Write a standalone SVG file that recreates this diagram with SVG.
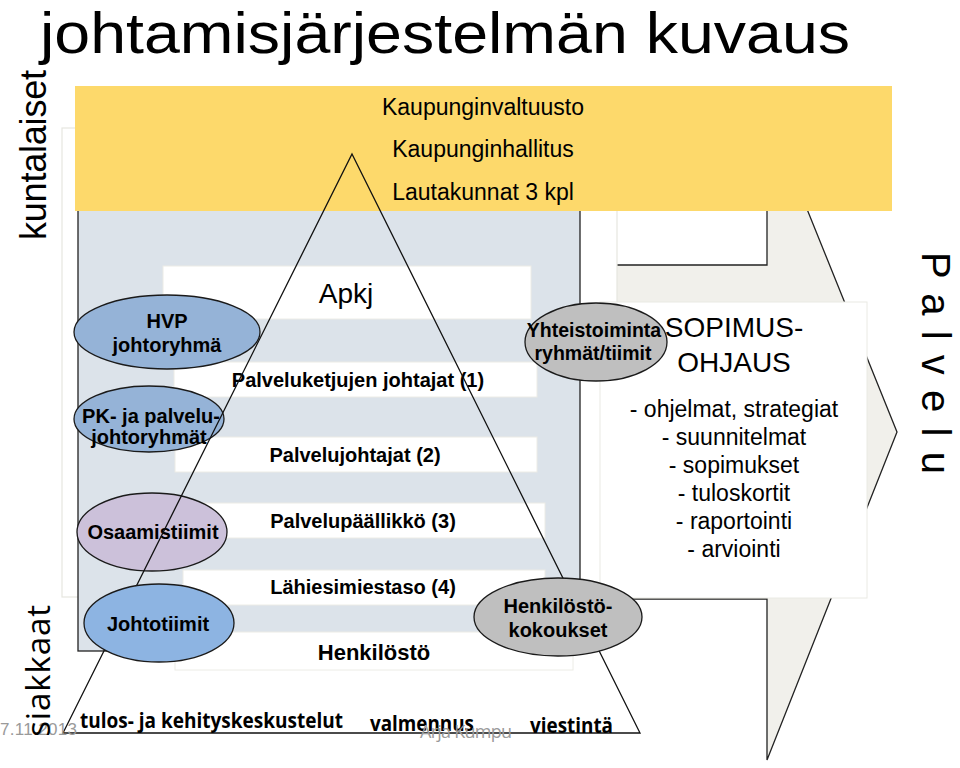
<svg xmlns="http://www.w3.org/2000/svg" width="960" height="768" viewBox="0 0 960 768">
<defs>
<style>
.sans{font-family:"Liberation Sans",Arial,sans-serif;fill:#000}
.b{font-weight:bold}
.row{fill:#fff;stroke:#ecece6;stroke-width:1}
.ell{stroke:#1a1a1a;stroke-width:1.3}
.cal{font-family:"Open Sans","Noto Sans",sans-serif;font-weight:bold;fill:#000}
.gray{fill:#9a9a9a}
.mid{text-anchor:middle}
</style>
<clipPath id="clipAs"><rect x="0" y="560" width="70" height="178"/></clipPath>
</defs>
<rect x="0" y="0" width="960" height="768" fill="#fff"/>

<g id="palvelu-arrow">
<polygon points="550,265 767,265 767,110 897,432 767,760 767,599 550,599" fill="#f1f0eb" stroke="#222" stroke-width="1.3"/>
</g>

<g id="outer-panel">
<rect x="62" y="128" width="555" height="469" fill="#fff" stroke="#e6e6df" stroke-width="1.2"/>
</g>

<g id="sopimusohjaus">
<rect x="600" y="302" width="267" height="296" fill="#fff" stroke="#eaeae4" stroke-width="1"/>
<text class="sans mid" x="734" y="337" font-size="28">SOPIMUS-</text>
<text class="sans mid" x="734" y="372" font-size="28">OHJAUS</text>
<text class="sans mid" x="734" y="417" font-size="23">- ohjelmat, strategiat</text>
<text class="sans mid" x="734" y="445" font-size="23">- suunnitelmat</text>
<text class="sans mid" x="734" y="473" font-size="23">- sopimukset</text>
<text class="sans mid" x="734" y="501" font-size="23">- tuloskortit</text>
<text class="sans mid" x="734" y="529" font-size="23">- raportointi</text>
<text class="sans mid" x="734" y="557" font-size="23">- arviointi</text>
</g>

<g id="organisation-panel">
<rect x="78" y="200" width="502" height="451" fill="#dce3ea" stroke="#222" stroke-width="1.3"/>
</g>

<g id="poliittinen">
<rect x="75" y="86" width="817" height="125" fill="#fdd96b"/>
<text class="sans mid" x="483" y="115" font-size="23">Kaupunginvaltuusto</text>
<text class="sans mid" x="483" y="157" font-size="23">Kaupunginhallitus</text>
<text class="sans mid" x="483" y="200" font-size="23">Lautakunnat 3 kpl</text>
</g>

<g id="row-apkj">
<rect class="row" x="163" y="266" width="368" height="53"/>
<text class="sans mid" x="346" y="303" font-size="28">Apkj</text>
</g>
<g id="row-1">
<rect class="row" x="174" y="362" width="363" height="35"/>
<text class="sans b mid" x="358" y="387" font-size="20">Palveluketjujen johtajat (1)</text>
</g>
<g id="row-2">
<rect class="row" x="175" y="437" width="362" height="35"/>
<text class="sans b mid" x="355" y="462" font-size="20">Palvelujohtajat (2)</text>
</g>
<g id="row-3">
<rect class="row" x="182" y="503" width="363" height="35"/>
<text class="sans b mid" x="363" y="528" font-size="20">Palvelupäällikkö (3)</text>
</g>
<g id="row-4">
<rect class="row" x="183" y="570" width="362" height="35"/>
<text class="sans b mid" x="363" y="594" font-size="20">Lähiesimiestaso (4)</text>
</g>
<g id="row-henkilosto">
<rect class="row" x="175" y="632" width="398" height="38"/>
<text class="sans b mid" x="374" y="660" font-size="22">Henkilöstö</text>
</g>

<g id="hvp">
<ellipse class="ell" cx="167" cy="332" rx="93" ry="37" fill="#95b3d7"/>
<text class="sans b mid" x="167" y="328" font-size="20">HVP</text>
<text class="sans b mid" x="167" y="352" font-size="20">johtoryhmä</text>
</g>
<g id="pk">
<ellipse class="ell" cx="149" cy="419" rx="75" ry="33" fill="#95b3d7"/>
<text class="sans b mid" x="151" y="423" font-size="20">PK- ja palvelu-</text>
<text class="sans b mid" x="149" y="444" font-size="20">johtoryhmät</text>
</g>
<g id="osaamistiimit">
<ellipse class="ell" cx="152" cy="532" rx="75" ry="39" fill="#ccc1da"/>
<text class="sans b mid" x="153" y="539" font-size="20">Osaamistiimit</text>
</g>
<g id="yhteistoiminta">
<ellipse class="ell" cx="596" cy="342" rx="71" ry="39" fill="#bfbfbf"/>
<text class="sans b mid" x="594" y="337" font-size="19.5">Yhteistoiminta</text>
<text class="sans b mid" x="593" y="360" font-size="19.5">ryhmät/tiimit</text>
</g>

<g id="connectors">
<polygon id="pyramid" points="352,154 640,733 63,733" fill="none" stroke="#111" stroke-width="1.3"/>
</g>

<g id="johtotiimit">
<ellipse class="ell" cx="159" cy="623" rx="75" ry="39" fill="#8db4e2"/>
<text class="sans b mid" x="158" y="631" font-size="20">Johtotiimit</text>
</g>
<g id="henkilostokokoukset">
<ellipse class="ell" cx="558" cy="617" rx="84" ry="39" fill="#bfbfbf"/>
<text class="sans b mid" x="558" y="613" font-size="20">Henkilöstö-</text>
<text class="sans b mid" x="558" y="637" font-size="20">kokoukset</text>
</g>

<g id="bottom-labels">
<text class="cal" x="80" y="728" font-size="21" textLength="263" lengthAdjust="spacingAndGlyphs">tulos- ja kehityskeskustelut</text>
<text class="cal" x="370" y="731" font-size="21" textLength="104" lengthAdjust="spacingAndGlyphs">valmennus</text>
<text class="cal" x="530" y="733" font-size="21" textLength="83" lengthAdjust="spacingAndGlyphs">viestintä</text>
</g>

<g id="footer">
<text class="gray" x="0" y="735" font-family="Liberation Sans, Arial, sans-serif" font-size="17" textLength="77">7.11.2013</text>
<text class="gray" x="420" y="738" font-family="Open Sans, Noto Sans, sans-serif" font-size="18" textLength="92">Arja Kumpu</text>
</g>

<g id="title">
<text class="sans" x="40" y="53" font-size="57" textLength="810" lengthAdjust="spacingAndGlyphs">johtamisjärjestelmän kuvaus</text>
</g>

<g id="side-labels">
<text class="sans" transform="translate(46,240) rotate(-90)" font-size="36" textLength="170">kuntalaiset</text>
<g clip-path="url(#clipAs)">
<text transform="translate(50,756) rotate(-90)" font-family="Open Sans, Noto Sans, sans-serif" font-size="33" fill="#000" textLength="151">asiakkaat</text>
</g>
<text class="sans" transform="translate(922,252) rotate(90)" font-size="40" textLength="222">P a l v e l u</text>
</g>
</svg>
